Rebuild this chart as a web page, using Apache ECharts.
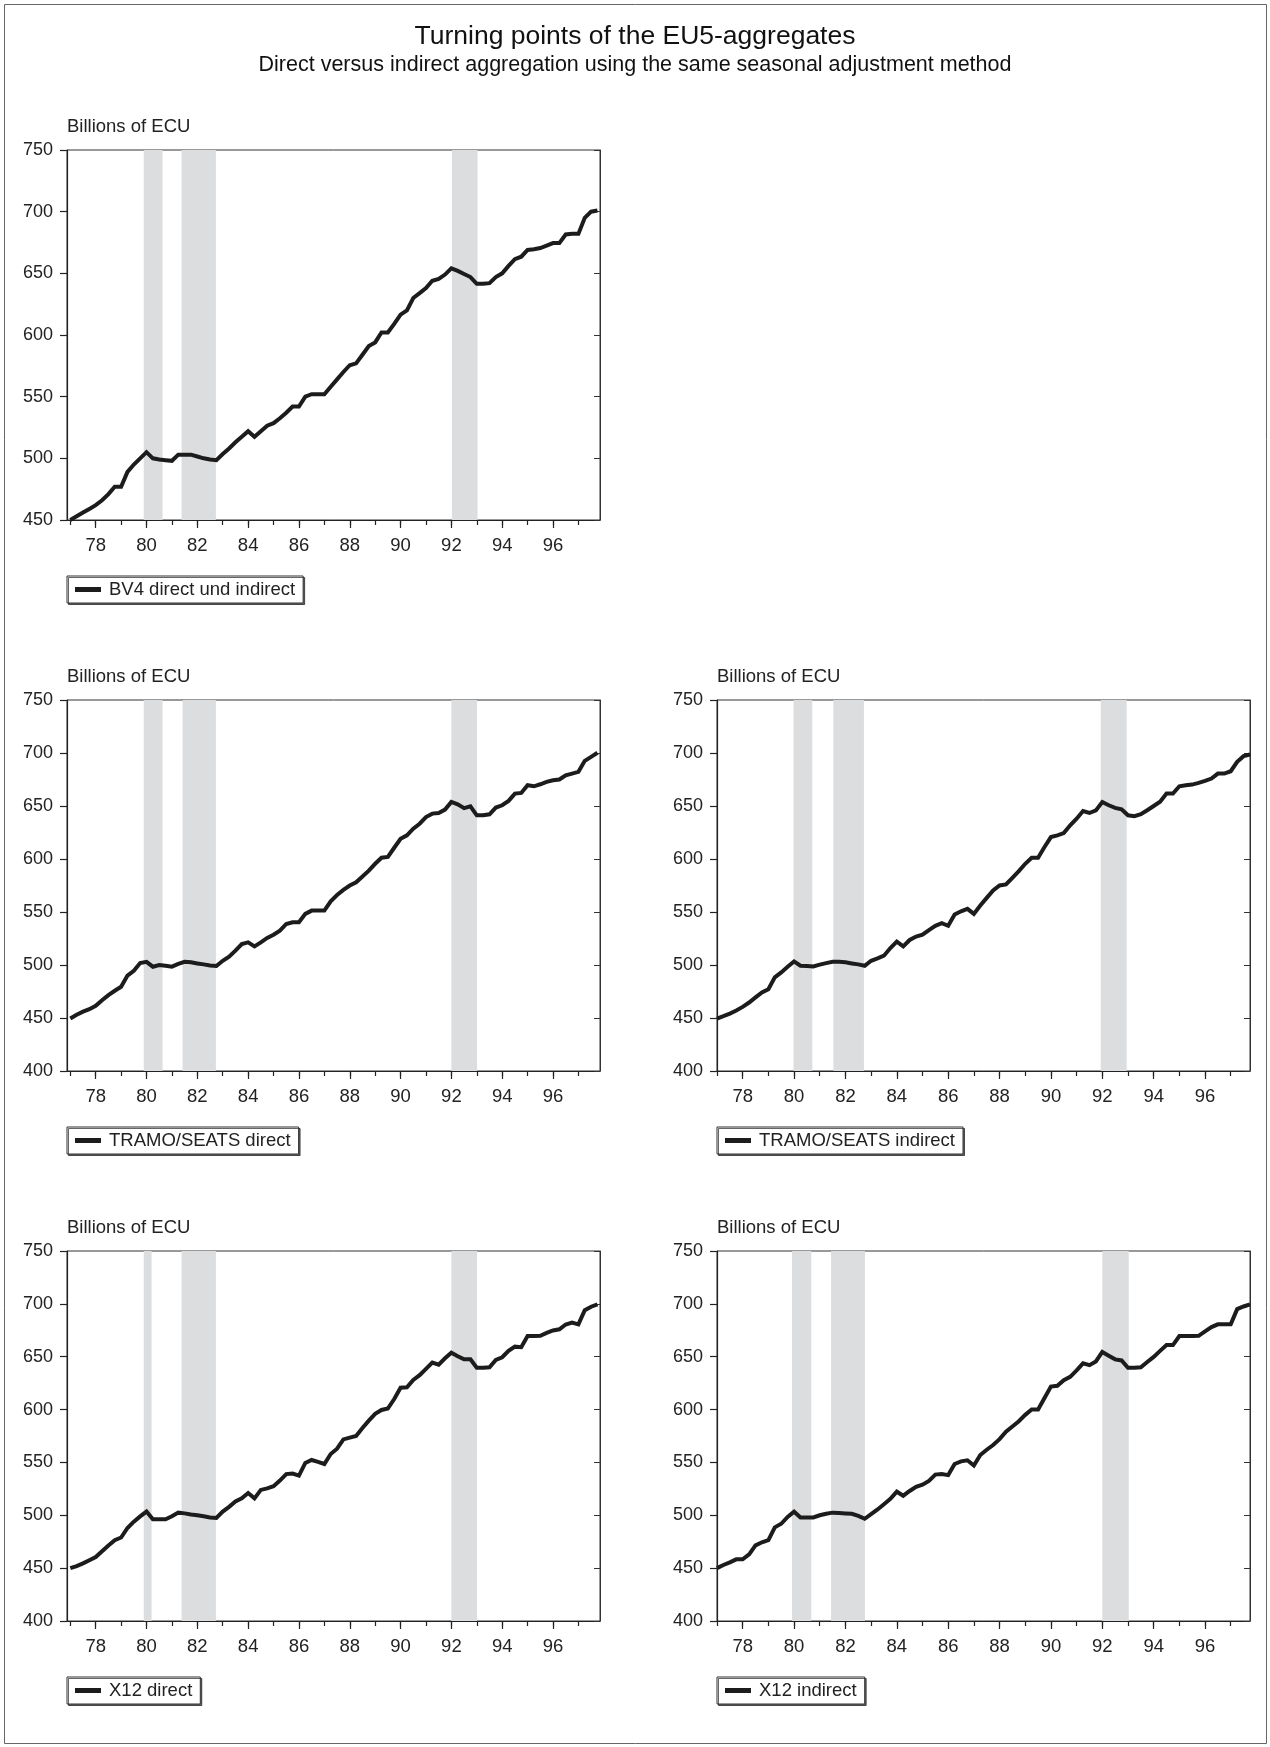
<!DOCTYPE html>
<html><head><meta charset="utf-8">
<script src="https://cdn.jsdelivr.net/npm/echarts@6/dist/echarts.min.js"></script>
<style>html,body{margin:0;padding:0;background:#fff}#c{width:1270px;height:1747px}</style>
</head><body><div id="c"></div>
<script>
// ---------- DATA ----------
const START_YEAR = 1977, END_YEAR = 1997;
const quarters = [];
for (let y = START_YEAR; y <= END_YEAR; y++) for (let q = 1; q <= 4; q++) quarters.push(y + 'Q' + q);

const titleText = 'Turning points of the EU5-aggregates';
const subtitleText = 'Direct versus indirect aggregation using the same seasonal adjustment method';
const unitLabel = 'Billions of ECU';
const seriesNames = ['BV4 direct und indirect', 'TRAMO/SEATS direct', 'TRAMO/SEATS indirect', 'X12 direct', 'X12 indirect'];

const bv4 = [
450, 453, 456, 459,   462, 466, 471, 477,   477, 489, 495, 500,   505, 500, 499, 498.5,
498, 503, 503, 503,   501.5, 500, 499, 498.5,   503.5, 508, 513, 517.5,   522, 517.5, 522, 526.5,
528.5, 532.5, 537, 542,   542, 550, 552, 552,   552, 558, 564, 570,   575.5, 577, 584, 591,
594, 602, 602, 609,   616.5, 620, 630, 634,   638, 644, 645.5, 649,   654, 652, 649.5, 647,
641.5, 641.5, 642, 647,   650, 656, 661.5, 663.5,   669, 669.5, 670.5, 672.5,   674.5, 674.5, 681.5, 682,
682, 695, 700, 701];

const tramoDirect = [
449.5, 453, 456, 458.3,   461.5, 466.8, 471.6, 475.7,   479.5, 490, 494.6, 501.8,   503, 498.4, 500, 499.3,
498.4, 501, 503, 502.5,   501.5, 500.6, 499.5, 499,   504, 507.8, 513.5, 519.8,   521.4, 517.6, 521.4, 525.5,
528.6, 532.4, 538.7, 540.3,   540.3, 548.2, 551.3, 551.3,   551.3, 560, 566, 570.9,   575, 578, 583.5, 589,
595.5, 601.2, 602, 610.6,   619.1, 622.3, 628.6, 633.3,   639.6, 642.8, 643.4, 646.6,   653.8, 651.6, 648, 649.7,
641.2, 641.2, 642.2, 648.5,   650.7, 654.8, 661.7, 662.3,   669.6, 668.6, 670.5, 672.7,   674.3, 675, 679, 680.6,
682.2, 692.6, 696.4, 700.2];

const tramoIndirect = [
449.5, 451.7, 454.2, 457,   460.5, 464.6, 469.4, 474.1,   477.2, 488.3, 493, 498.4,   503.4, 499.3, 499, 498.7,
500.3, 501.8, 503, 503,   502.5, 501.5, 500.6, 499.3,   504, 506.3, 508.8, 516,   522, 517.6, 523.6, 526.8,
528.6, 533, 537, 539.4,   537, 547.6, 550.7, 553,   548.2, 556.1, 563.3, 570.3,   575, 576, 582.3, 588.6,
595.5, 601.2, 601.2, 611.3,   620.7, 622.3, 624.5, 631.8,   638, 645.3, 643.4, 645.9,   653.8, 650.7, 648.2, 646.9,
641.2, 640.3, 642.2, 646,   650, 654.1, 661.7, 661.7,   668.6, 669.6, 670.2, 671.8,   673.7, 675.9, 680.6, 680.6,
682.8, 691.7, 697, 698.6];

const x12Direct = [
450, 452, 454.5, 457.5,   460.5, 466, 471.5, 476.5,   479, 488, 494, 499,   503.5, 496.2, 496.2, 496.2,
499, 502.5, 501.8, 500.8,   500, 499, 498, 497.5,   503.5, 508, 513, 516,   521, 516, 524, 525.5,
527.5, 532.8, 539, 539.5,   537.5, 549.5, 552.3, 550.5,   548.5, 558, 563, 571.8,   573.5, 575, 582.5, 589.5,
596, 599.6, 601, 610,   620.7, 621, 628, 632.5,   638.5, 644.5, 642.5, 648.5,   653.8, 650.5, 647.5, 647.5,
639.5, 639.5, 640, 647,   649.5, 655.5, 659.5, 659,   669.6, 669.6, 669.8, 672.5,   674.8, 675.9, 680.5, 682.2,
680.6, 694, 697.3, 699.5];

const x12Indirect = [
450, 453, 455.5, 458.3,   458.3, 463, 471.5, 474.5,   476.5, 488.6, 492, 498.5,   503.4, 498, 498, 498,
500, 501.5, 502.5, 502.2,   501.8, 501.4, 499.5, 496.7,   501, 505.5, 510.5, 515.5,   522.3, 518.5, 523, 527,
529, 532.5, 538.5, 539,   538, 548.5, 551, 552,   547, 557, 562, 566.5,   572, 579, 584, 589,
595, 600, 600, 611,   621.7, 622.5, 627.8, 631,   637, 643.7, 642, 645.5,   654.5, 651, 647.5, 646.5,
639.5, 639.5, 640, 645,   649.8, 655.5, 661, 661,   669.6, 669.6, 669.6, 669.8,   674, 678, 680.6, 680.6,
680.6, 695, 697.5, 699.5];

// shaded turning-point phases (in years, 2-digit)
const bandsBV4 = [[79.89, 80.63], [81.38, 82.73], [92.02, 93.03]];
const bandsTramoDirect = [[79.89, 80.63], [81.42, 82.73], [92.0, 93.01]];
const bandsTramoIndirect = [[79.98, 80.71], [81.53, 82.72], [91.94, 92.95]];
const bandsX12Direct = [[79.89, 80.2], [81.38, 82.73], [92.0, 93.01]];
const bandsX12Indirect = [[79.92, 80.67], [81.44, 82.76], [92.0, 93.03]];

const yearTicks = [77, 78, 79, 80, 81, 82, 83, 84, 85, 86, 87, 88, 89, 90, 91, 92, 93, 94, 95, 96, 97];
const yearLabels = [78, 80, 82, 84, 86, 88, 90, 92, 94, 96];

// ---------- LAYOUT ----------
const FONT = "'Liberation Sans', Arial, sans-serif";
const INK = '#1c1c1c';
const FS = 18.5;
const panels = [
  { name: seriesNames[0], values: bv4,           bands: bandsBV4,           ymin: 450, left: 67,  top: 150,  h: 370, xmin: 76.87, xmax: 97.85 },
  { name: seriesNames[1], values: tramoDirect,   bands: bandsTramoDirect,   ymin: 400, left: 67,  top: 700,  h: 371, xmin: 76.87, xmax: 97.85 },
  { name: seriesNames[2], values: tramoIndirect, bands: bandsTramoIndirect, ymin: 400, left: 717, top: 700,  h: 371, xmin: 77.0,  xmax: 97.75 },
  { name: seriesNames[3], values: x12Direct,     bands: bandsX12Direct,     ymin: 400, left: 67,  top: 1251, h: 370, xmin: 76.87, xmax: 97.85 },
  { name: seriesNames[4], values: x12Indirect,   bands: bandsX12Indirect,   ymin: 400, left: 717, top: 1251, h: 370, xmin: 77.0,  xmax: 97.75 }
];
const W = 533;

function qPos(label) { // '1977Q1' -> 77.0
  const y = parseInt(label.slice(0, 4), 10) - 1900;
  const q = parseInt(label.slice(5), 10);
  return y + (q - 1) / 4;
}

const grid = [], xAxis = [], yAxis = [], series = [], legend = [], graphic = [];
panels.forEach((p, i) => {
  grid.push({ left: p.left, top: p.top, width: W, height: p.h, show: true, borderColor: '#333', borderWidth: 1, containLabel: false });
  xAxis.push({
    type: 'value', gridIndex: i, position: 'bottom', min: p.xmin, max: p.xmax,
    axisLine: { show: true, onZero: false, lineStyle: { color: '#222', width: 1.2 } },
    axisTick: { show: true, customValues: yearLabels, length: 8, lineStyle: { color: '#222', width: 1.2 } },
    axisLabel: { show: true, customValues: yearLabels, fontSize: FS, color: '#222', margin: 16, fontFamily: FONT },
    splitLine: { show: false }
  });
  xAxis.push({
    type: 'value', gridIndex: i, position: 'bottom', min: p.xmin, max: p.xmax,
    axisLine: { show: false, onZero: false },
    axisTick: { show: true, customValues: yearTicks, length: 5, lineStyle: { color: '#222', width: 1.2 } },
    axisLabel: { show: false },
    splitLine: { show: false }
  });
  yAxis.push({
    type: 'value', gridIndex: i, position: 'left', min: p.ymin, max: 750, interval: 50,
    axisLine: { show: true, lineStyle: { color: '#222', width: 1.2 } },
    axisTick: { show: true, length: 7, lineStyle: { color: '#222', width: 1.2 } },
    axisLabel: { fontSize: 18, color: '#222', margin: 14, fontFamily: FONT },
    splitLine: { show: false }
  });
  yAxis.push({
    type: 'value', gridIndex: i, position: 'right', min: p.ymin, max: 750, interval: 50,
    axisLine: { show: true, lineStyle: { color: '#333', width: 1 } },
    axisTick: { show: true, inside: true, length: 6, lineStyle: { color: '#333', width: 1 } },
    axisLabel: { show: false },
    splitLine: { show: false }
  });
  series.push({
    type: 'line', name: p.name, xAxisIndex: 2 * i, yAxisIndex: 2 * i,
    data: quarters.map((q, k) => [qPos(q), p.values[k]]),
    showSymbol: false, symbol: 'none', color: INK,
    lineStyle: { color: INK, width: 4, join: 'miter' },
    markArea: { silent: true, itemStyle: { color: '#dcdddf' },
      data: p.bands.map(b => [{ xAxis: b[0] }, { xAxis: b[1] }]) },
    z: 3
  });
  legend.push({
    data: [{ name: p.name, icon: 'rect' }], left: p.left, top: p.top + p.h + 56,
    orient: 'horizontal', itemWidth: 26, itemHeight: 5, padding: [4, 8, 4, 8],
    borderColor: '#333', borderWidth: 1, backgroundColor: '#fff',
    shadowColor: 'rgba(0,0,0,0.6)', shadowOffsetX: 1.5, shadowOffsetY: 1.5, shadowBlur: 0,
    selectedMode: false,
    textStyle: { fontSize: FS, color: '#222', fontFamily: FONT, padding: [0, 0, 0, 3] }
  });
  graphic.push({ type: 'text', left: p.left, top: p.top - 33,
    style: { text: unitLabel, fontSize: FS, fill: '#222', fontFamily: FONT } });
});

graphic.push({ type: 'rect', shape: { x: 4.5, y: 4.5, width: 1262, height: 1739 },
  style: { fill: null, stroke: '#666', lineWidth: 1 }, z: -10, silent: true });

const chart = echarts.init(document.getElementById('c'), null, { renderer: 'canvas' });
chart.setOption({
  animation: false,
  backgroundColor: '#fff',
  title: [
    { text: titleText, left: 'center', top: 18, textStyle: { fontSize: 26.5, fontWeight: 'normal', color: '#111', fontFamily: FONT } },
    { text: subtitleText, left: 'center', top: 49, textStyle: { fontSize: 21.5, fontWeight: 'normal', color: '#111', fontFamily: FONT } }
  ],
  grid, xAxis, yAxis, series, legend, graphic
});
</script></body></html>
